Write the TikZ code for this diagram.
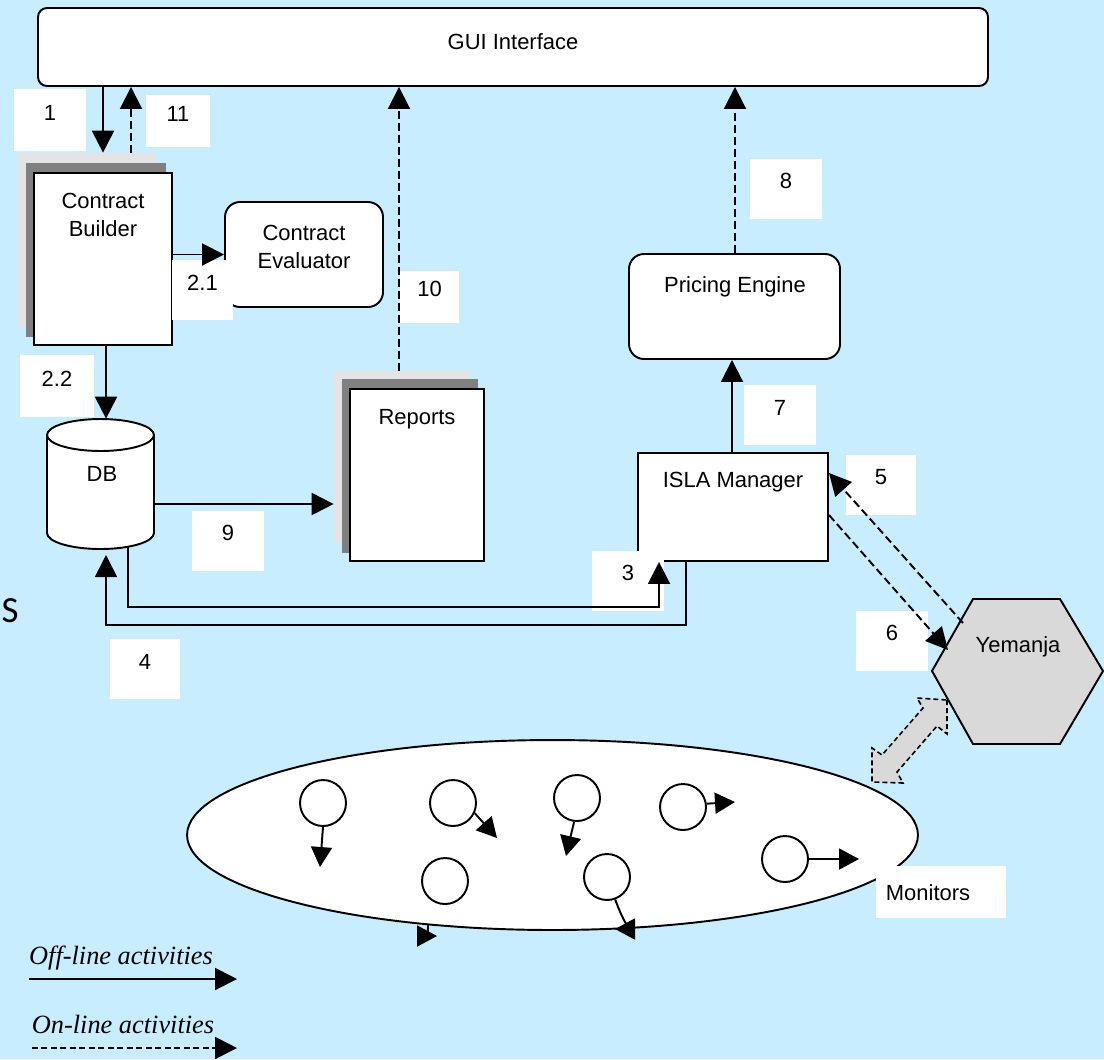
\documentclass[tikz,border=0pt]{standalone}
\usepackage{fontspec}
\setmainfont{Liberation Sans}
\newfontfamily\legendfont{Liberation Serif}
\newfontfamily\sidefont{Carlito}
\usetikzlibrary{arrows.meta,fit,shapes.geometric}

\definecolor{bgblue}{RGB}{199,237,254}
\definecolor{sheetlight}{RGB}{228,228,228}
\definecolor{sheetdark}{RGB}{128,128,128}
\definecolor{yemgray}{RGB}{217,217,217}

\begin{document}
\begin{tikzpicture}[x=0.02cm, y=-0.02cm,
  font=\fontsize{12.5}{15.5}\selectfont,
  every node/.style={inner sep=0pt},
  box/.style={draw, fill=white, line width=1.1pt},
  rbox/.style={box, rounded corners=0.3cm},
  numtag/.style={fill=white},
  flow/.style={line width=1.1pt, -{Triangle[length=0.44cm, width=0.44cm]}},
  online/.style={flow, dash pattern=on 0.16cm off 0.08cm},
  mon/.style={circle, draw, fill=white, line width=1.1pt, minimum size=0.92cm},
  monflow/.style={line width=1.1pt, -{Triangle[length=0.4cm, width=0.42cm]}},
  legendtext/.style={font=\legendfont\itshape\fontsize{15}{18}\selectfont, anchor=base},
]
\useasboundingbox (0,0) rectangle (1104,1059);
\fill[bgblue] (0,0) rectangle (1104,1059);

% stray letter at the left margin
\node[font=\sidefont\fontsize{21}{24}\selectfont] (side-s) at (10,611) {S};

% user interface bar
\node[box, rounded corners=0.18cm, fit={(38,8) (988,86)}] (gui) {};
\node (gui-t) at (513,42) {GUI Interface};

% contract builder (stacked sheets)
\node[fill=sheetlight, fit={(18,153) (156,327)}] (cbback) {};
\node[fill=sheetdark, fit={(26,163) (166,337)}] (cbmid) {};
\node[box, fit={(34,173) (172,345)}] (cb) {};
\node[align=center] (cb-t) at (103,215) {Contract\\Builder};

% contract evaluator
\node[rbox, fit={(225,202) (383,307)}, align=center] (ce) {Contract\\Evaluator};

% reports (stacked sheets)
\node[fill=sheetlight, fit={(334,371) (470,543)}] (repback) {};
\node[fill=sheetdark, fit={(342,379) (478,553)}] (repmid) {};
\node[box, fit={(350,389) (484,561)}] (rep) {};
\node (rep-t) at (417,419) {Reports};

% pricing engine and ISLA manager
\node[rbox, fit={(629,254) (840,359)}] (pe) {};
\node (pe-t) at (735,287) {Pricing Engine};
\node[box, fit={(638,453) (828,561)}] (isla) {};
\node (isla-t) at (733,482) {ISLA Manager};

% database cylinder
\node[fit={(47,419) (154,549)}] (db) {};
\draw[box] (47,435) -- (47,533)
  arc[start angle=180, end angle=360, x radius=1.07cm, y radius=0.32cm]
  -- (154,435)
  arc[start angle=0, end angle=180, x radius=1.07cm, y radius=0.32cm] -- cycle;
\draw[line width=1.1pt] (47,435)
  arc[start angle=180, end angle=360, x radius=1.07cm, y radius=0.32cm];
\node (db-t) at (102,474) {DB};

% Yemanja hexagon
\coordinate (hTL) at (973,599);
\coordinate (hTR) at (1060,599);
\coordinate (hR) at (1103,671);
\coordinate (hBR) at (1060,744);
\coordinate (hBL) at (973,744);
\coordinate (hL) at (932,671);
\draw[fill=yemgray, line width=1.1pt] (hTL) -- (hTR) -- (hR) -- (hBR) -- (hBL) -- (hL) -- cycle;
\node (yem-t) at (1018,647) {Yemanja};

% monitors field
\node[ellipse, draw, fill=white, line width=1.1pt, minimum width=14.62cm, minimum height=3.8cm] (field) at (552.5,835) {};

% two-way exchange between Yemanja and the monitors
\draw[fill=yemgray, line width=0.9pt, dash pattern=on 0.1cm off 0.06cm]
  (947,700) -- (947,734) -- (937,726) -- (897,772) -- (903,783) -- (872,782)
  -- (872,748) -- (882,755) -- (923,708) -- (917,698) -- cycle;

% monitors
\node[mon] (m1) at (323,803) {};
\node[mon] (m2) at (453,803) {};
\node[mon] (m3) at (445,881) {};
\node[mon] (m4) at (577,798) {};
\node[mon] (m5) at (683,807) {};
\node[mon] (m6) at (607,877) {};
\node[mon] (m7) at (785,859) {};
\coordinate (stubc) at (428,924);

\draw[monflow] (m1.south) -- (320,867);
\draw[monflow] (m2.-25) -- (497,838);
\draw[monflow] (m4.-97) -- (566,856);
\draw[monflow] (m5.8) -- (735,802);
\draw[monflow] (m7.east) -- (859,859);
\draw[monflow] (m6.-70) .. controls (628,934) and (632,929) .. (615,929);
\draw[monflow] (stubc) .. controls (428,936) .. (437,936);

% step number tags
\node[numtag, fit={(14,89) (86,151)}] (t1) {1};
\node[numtag, fit={(146,95) (210,147)}] (t11) {11};
\node[numtag, fit={(172,260) (233,320)}] (t21) {2.1};
\node[numtag, fit={(400,271) (459,323)}] (t10) {10};
\node[numtag, fit={(20,355) (94,417)}] (t22) {2.2};
\node[numtag, fit={(192,511) (264,571)}] (t9) {9};
\node[numtag, fit={(592,551) (664,611)}] (t3) {3};
\node[numtag, fit={(110,639) (180,699)}] (t4) {4};
\node[numtag, fit={(744,385) (816,445)}] (t7) {7};
\node[numtag, fit={(750,159) (822,219)}] (t8) {8};
\node[numtag, fit={(846,455) (916,515)}] (t5) {5};
\node[numtag, fit={(856,611) (928,671)}] (t6) {6};
\node[numtag, fit={(876,866) (1006,918)}] (tmon) {};
\node (mon-t) at (928,893) {Monitors};

% flows between components
\coordinate (dbout) at (128,546);
\coordinate (dbin) at (106,555);
\coordinate (yemout) at (963,623);
\coordinate (yemin) at (948,650);

\draw[flow] (gui.south -| cb.north) -- (cbback.north -| cb.north);
\draw[online] (cbback.north -| 131,0) -- (gui.south -| 131,0);
\draw[flow] (cb.east |- ce.west) -- (ce.west);
\draw[online] (repback.north -| 399,0) -- (gui.south -| 399,0);
\draw[flow] (cb.south -| 106,0) -- (db.north -| 106,0);
\draw[flow] (db.east |- 0,504) -- (repback.west |- 0,504);
\draw[flow] (dbout) -- (128,607) -| (isla.south -| 659,0);
\draw[flow] (isla.south -| 686,0) -- (686,625) -| (dbin);
\draw[flow] (isla.north -| 732,0) -- (pe.south -| 732,0);
\draw[online] (pe.north -| 735,0) -- (gui.south -| 735,0);
\draw[online] (yemout) -- (isla.east |- 0,473);
\draw[online] (isla.east |- 0,515) -- (yemin);

% legend
\node[legendtext] (off-t) at (121,964) {Off-line activities};
\coordinate (offa) at (29,979);
\coordinate (offb) at (237,979);
\draw[flow] (offa) -- (offb);
\node[legendtext] (on-t) at (123,1033) {On-line activities};
\coordinate (ona) at (32,1048);
\coordinate (onb) at (237,1048);
\draw[flow, dash pattern=on 0.12cm off 0.07cm] (ona) -- (onb);
\end{tikzpicture}
\end{document}
